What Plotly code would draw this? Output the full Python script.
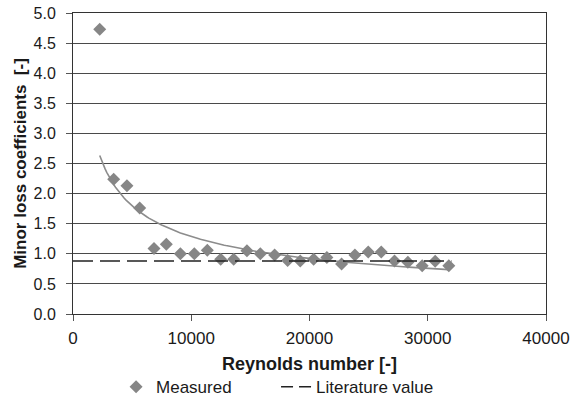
import numpy as np
import plotly.graph_objects as go

reynolds = [2260, 3440, 4560, 5640, 6850, 7890, 9080, 10260, 11360, 12490, 13590,
            14710, 15840, 17050, 18150, 19220, 20350, 21470, 22710, 23840, 24970,
            26070, 27190, 28320, 29530, 30630, 31780]
k_measured = [4.73, 2.24, 2.13, 1.76, 1.09, 1.16, 1.00, 1.00, 1.06, 0.91, 0.91,
              1.05, 1.00, 0.98, 0.89, 0.88, 0.91, 0.94, 0.83, 0.98, 1.03,
              1.03, 0.88, 0.86, 0.80, 0.875, 0.80]

# Literature value line
lit_re = [0, 32000]
lit_value = 0.88

x_ticks = [0, 10000, 20000, 30000, 40000]
y_ticks = [0.0, 0.5, 1.0, 1.5, 2.0, 2.5, 3.0, 3.5, 4.0, 4.5, 5.0]

# Power-law trendline fitted to the measured data (Excel-style)
lx = np.log(np.array(reynolds, dtype=float))
ly = np.log(np.array(k_measured, dtype=float))
b, lna = np.polyfit(lx, ly, 1)
trend_x = np.linspace(min(reynolds), max(reynolds), 200)
trend_y = np.exp(lna) * trend_x ** b

fig = go.Figure()
fig.add_trace(go.Scatter(
    x=trend_x, y=trend_y, mode="lines",
    line=dict(color="#8c8c8c", width=1.6), showlegend=False, hoverinfo="skip"))
fig.add_trace(go.Scatter(
    x=reynolds, y=k_measured, mode="markers", name="Measured",
    marker=dict(symbol="diamond", size=10, color="#868686")))
fig.add_trace(go.Scatter(
    x=lit_re, y=[lit_value, lit_value], mode="lines", name="Literature value",
    line=dict(color="#222222", width=1.5, dash="20px,7px"), showlegend=False))
# legend entry for the literature line (shorter dashes, as in the legend key)
fig.add_trace(go.Scatter(
    x=[None], y=[None], mode="lines", name="Literature value",
    line=dict(color="#222222", width=1.5, dash="12px,6px")))

fig.update_layout(
    width=575, height=398,
    margin=dict(l=73, r=29, t=13, b=84, autoexpand=False),
    paper_bgcolor="white", plot_bgcolor="white",
    font=dict(family="Liberation Sans, Arial, sans-serif", color="#1a1a1a"),
    legend=dict(orientation="h", x=0.091, xanchor="left", y=-0.243, yanchor="middle",
                font=dict(size=17), itemwidth=30, tracegroupgap=0,
                entrywidth=115, entrywidthmode="pixels"),
)
fig.update_xaxes(
    range=[0, 40000], tickvals=x_ticks, ticktext=[str(v) for v in x_ticks],
    showgrid=False, zeroline=False, automargin=False,
    showline=True, linecolor="#333333", linewidth=1, mirror=True,
    ticks="outside", ticklen=6, tickcolor="#555555",
    tickfont=dict(size=17), ticklabelstandoff=3,
    title=dict(text="<b>Reynolds number [-]</b>", font=dict(size=18), standoff=9),
)
fig.update_yaxes(
    range=[0, 5.0], tickvals=y_ticks, ticktext=[f"{v:.1f}" for v in y_ticks],
    showgrid=True, gridcolor="#4a4a4a", gridwidth=1, zeroline=False, automargin=False,
    showline=True, linecolor="#333333", linewidth=1, mirror=True,
    ticks="outside", ticklen=6, tickcolor="#555555",
    tickfont=dict(size=16), ticklabelstandoff=7,
    title=dict(text="<b>Minor loss coefficients  [-]</b>", font=dict(size=17), standoff=2),
)

fig.write_html("out.html")
